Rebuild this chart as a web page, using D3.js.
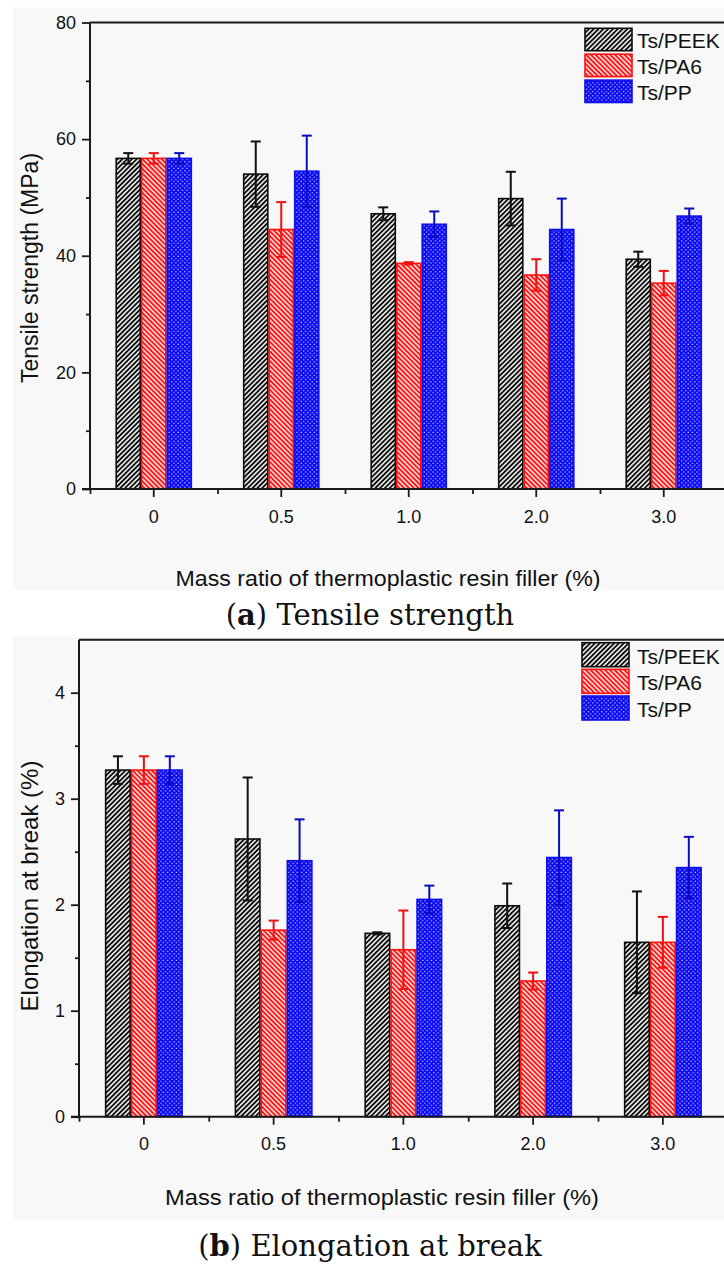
<!DOCTYPE html>
<html>
<head>
<meta charset="utf-8">
<script src="https://cdn.jsdelivr.net/npm/d3@7"></script>
<style>
  html, body { margin: 0; padding: 0; background: #ffffff; }
  svg { display: block; }
  .sans { font-family: "Liberation Sans", Arial, sans-serif; fill: #111; }
</style>
</head>
<body>
<svg id="chart" width="724" height="1267"></svg>
<script>
// ---------- data ----------
const categories = ["0", "0.5", "1.0", "2.0", "3.0"];
const seriesNames = ["Ts/PEEK", "Ts/PA6", "Ts/PP"];

const tensilePEEK    = [56.7, 54.0, 47.2, 49.8, 39.4];
const tensilePEEKErr = [0.9, 5.6, 1.1, 4.6, 1.3];
const tensilePA6     = [56.7, 44.5, 38.7, 36.7, 35.3];
const tensilePA6Err  = [0.9, 4.7, 0.2, 2.7, 2.1];
const tensilePP      = [56.7, 54.5, 45.4, 44.5, 46.8];
const tensilePPErr   = [0.9, 6.1, 2.2, 5.3, 1.3];

const elongPEEK    = [3.27, 2.62, 1.73, 1.99, 1.645];
const elongPEEKErr = [0.13, 0.58, 0.01, 0.21, 0.48];
const elongPA6     = [3.27, 1.76, 1.575, 1.28, 1.645];
const elongPA6Err  = [0.13, 0.09, 0.37, 0.08, 0.24];
const elongPP      = [3.27, 2.415, 2.05, 2.445, 2.35];
const elongPPErr   = [0.13, 0.39, 0.13, 0.445, 0.29];

const tensileMajorTicks = [0, 20, 40, 60, 80];
const tensileMinorTicks = [10, 30, 50, 70];
const elongMajorTicks = [0, 1, 2, 3, 4];
const elongMinorTicks = [0.5, 1.5, 2.5, 3.5];

// ---------- drawing ----------
const svg = d3.select("#chart");
const defs = svg.append("defs");

function hatch(id, angle, bg, color, sw, gap) {
  const p = defs.append("pattern").attr("id", id)
    .attr("patternUnits", "userSpaceOnUse")
    .attr("width", gap).attr("height", gap)
    .attr("patternTransform", `rotate(${angle})`);
  p.append("rect").attr("width", gap).attr("height", gap).attr("fill", bg);
  p.append("line").attr("x1", gap / 2).attr("x2", gap / 2).attr("y1", -1).attr("y2", gap + 1)
    .attr("stroke", color).attr("stroke-width", sw);
}
hatch("pPEEK", 45, "#eeeeee", "#0a0a0a", 1.8, 3.4);
hatch("pPA6", -45, "#ffd0d0", "#ff1414", 1.7, 3.4);
(function () {
  const p = defs.append("pattern").attr("id", "pPP")
    .attr("patternUnits", "userSpaceOnUse").attr("width", 4.4).attr("height", 4.4);
  p.append("rect").attr("width", 4.4).attr("height", 4.4).attr("fill", "#0808f2");
  p.append("circle").attr("cx", 1.1).attr("cy", 1.1).attr("r", 0.75).attr("fill", "#c8c8ff");
  p.append("circle").attr("cx", 3.3).attr("cy", 3.3).attr("r", 0.75).attr("fill", "#c8c8ff");
})();

const fills = ["url(#pPEEK)", "url(#pPA6)", "url(#pPP)"];
const strokes = ["#0d0d0d", "#ff1010", "#1010ee"];
const errColors = ["#111111", "#ee1111", "#0a0ac0"];

function drawChart(cfg) {
  const g = svg.append("g");
  g.append("rect").attr("x", cfg.panel[0]).attr("y", cfg.panel[1])
    .attr("width", cfg.panel[2]).attr("height", cfg.panel[3]).attr("fill", "#f8f8f8");

  const x0 = d3.scaleBand().domain(categories).range(cfg.xRange)
    .paddingInner(0.4).paddingOuter(0.2);
  const x1 = d3.scaleBand().domain(seriesNames).range([0, x0.bandwidth()]);
  const xEdge = d3.scaleLinear().domain([0, categories.length]).range(cfg.xRange);
  const y = d3.scaleLinear().domain(cfg.yDomain).range(cfg.yRange);

  const rows = categories.map((c, i) => ({
    cat: c,
    vals: seriesNames.map((s, k) => ({ s, k, v: cfg.values[k][i], e: cfg.errors[k][i] }))
  }));

  const grp = g.selectAll("g.grp").data(rows).join("g").attr("class", "grp")
    .attr("transform", d => `translate(${x0(d.cat)},0)`);

  grp.selectAll("rect.bar").data(d => d.vals).join("rect").attr("class", "bar")
    .attr("x", d => x1(d.s) + 0.7)
    .attr("width", x1.bandwidth() - 1.4)
    .attr("y", d => y(d.v))
    .attr("height", d => y(0) - y(d.v))
    .attr("fill", d => fills[d.k])
    .attr("stroke", d => strokes[d.k])
    .attr("stroke-width", 1.6);

  const cap = 5;
  const cx = d => x1(d.s) + x1.bandwidth() / 2;
  const eb = grp.selectAll("g.err").data(d => d.vals).join("g").attr("class", "err")
    .attr("stroke", d => errColors[d.k]).attr("stroke-width", 2).attr("fill", "none");
  eb.append("line").attr("x1", cx).attr("x2", cx)
    .attr("y1", d => y(d.v - d.e)).attr("y2", d => y(d.v + d.e));
  eb.append("line").attr("x1", d => cx(d) - cap).attr("x2", d => cx(d) + cap)
    .attr("y1", d => y(d.v + d.e)).attr("y2", d => y(d.v + d.e));
  eb.append("line").attr("x1", d => cx(d) - cap).attr("x2", d => cx(d) + cap)
    .attr("y1", d => y(d.v - d.e)).attr("y2", d => y(d.v - d.e));

  const axisColor = "#1a1a1a";
  const styleAxis = sel => {
    sel.select(".domain").remove();
    sel.selectAll("line").attr("stroke", axisColor).attr("stroke-width", 1.8);
    sel.selectAll("text").attr("class", "sans").style("font-size", cfg.tickFont + "px")
      .attr("fill", "#111");
  };
  const yx = cfg.xRange[0];
  const y0 = y(0);
  g.append("line").attr("x1", yx).attr("x2", yx).attr("y1", cfg.yRange[1]).attr("y2", y0)
    .attr("stroke", axisColor).attr("stroke-width", 2);
  g.append("line").attr("x1", yx).attr("x2", 724).attr("y1", cfg.yRange[1]).attr("y2", cfg.yRange[1])
    .attr("stroke", axisColor).attr("stroke-width", 2);
  g.append("line").attr("x1", yx - 8).attr("x2", 724).attr("y1", y0).attr("y2", y0)
    .attr("stroke", axisColor).attr("stroke-width", 2);

  g.append("g").attr("transform", `translate(${yx},0)`)
    .call(d3.axisLeft(y).tickValues(cfg.major).tickSize(8).tickPadding(6).tickFormat(d3.format("d")))
    .call(styleAxis);
  g.append("g").attr("transform", `translate(${yx},0)`)
    .call(d3.axisLeft(y).tickValues(cfg.minor).tickSize(4).tickFormat(""))
    .call(styleAxis);
  g.append("g").attr("transform", `translate(0,${y0})`)
    .call(d3.axisBottom(x0).tickSize(8).tickPadding(13))
    .call(styleAxis);
  g.append("g").attr("transform", `translate(0,${y0})`)
    .call(d3.axisBottom(xEdge).tickValues(d3.range(categories.length + 1)).tickSize(5).tickFormat(""))
    .call(styleAxis);

  g.append("text").attr("class", "sans")
    .attr("transform", `translate(${cfg.yTitlePos[0]},${cfg.yTitlePos[1]}) rotate(-90)`)
    .attr("text-anchor", "middle").style("font-size", cfg.yTitleFont + "px")
    .text(cfg.yTitle);
  g.append("text").attr("class", "sans")
    .attr("x", cfg.xTitlePos[0]).attr("y", cfg.xTitlePos[1])
    .attr("text-anchor", "middle").style("font-size", cfg.titleFont + "px")
    .attr("textLength", cfg.xTitleLen).attr("lengthAdjust", "spacingAndGlyphs")
    .text("Mass ratio of thermoplastic resin filler (%)");

  const lg = g.append("g");
  seriesNames.forEach((s, k) => {
    const yy = cfg.legend[1] + k * cfg.legend[3];
    lg.append("rect").attr("x", cfg.legend[0]).attr("y", yy)
      .attr("width", 47).attr("height", cfg.legend[2])
      .attr("fill", fills[k]).attr("stroke", strokes[k]).attr("stroke-width", 1.6);
    lg.append("text").attr("class", "sans").attr("x", 637).attr("y", yy + cfg.legend[2] - 3)
      .style("font-size", "21px").text(s);
  });

  const cap2 = g.append("text").attr("x", 370).attr("y", cfg.captionY)
    .attr("text-anchor", "middle")
    .style("font-family", "'DejaVu Serif', 'Liberation Serif', serif")
    .style("font-size", "29px").attr("fill", "#111");
  cap2.append("tspan").text("(");
  cap2.append("tspan").style("font-weight", "bold").text(cfg.captionLetter);
  cap2.append("tspan").text(") " + cfg.caption);
}

drawChart({
  panel: [13, 7, 711, 583],
  xRange: [90, 727.5],
  yDomain: [0, 80],
  yRange: [489, 22.5],
  values: [tensilePEEK, tensilePA6, tensilePP],
  errors: [tensilePEEKErr, tensilePA6Err, tensilePPErr],
  major: tensileMajorTicks,
  minor: tensileMinorTicks,
  tickFont: 18,
  titleFont: 22,
  yTitleFont: 23,
  yTitle: "Tensile strength (MPa)",
  yTitlePos: [38, 268],
  xTitlePos: [388, 586],
  xTitleLen: 425,
  legend: [585, 28.3, 22.4, 25.9],
  captionY: 625,
  captionLetter: "a",
  caption: "Tensile strength"
});

drawChart({
  panel: [13, 637, 711, 583],
  xRange: [79, 727.75],
  yDomain: [0, 4.5],
  yRange: [1116.7, 639.7],
  values: [elongPEEK, elongPA6, elongPP],
  errors: [elongPEEKErr, elongPA6Err, elongPPErr],
  major: elongMajorTicks,
  minor: elongMinorTicks,
  tickFont: 18,
  titleFont: 22.5,
  yTitleFont: 24,
  yTitle: "Elongation at break (%)",
  yTitlePos: [38, 886],
  xTitlePos: [382, 1205],
  xTitleLen: 434,
  legend: [582, 642.7, 24, 26.65],
  captionY: 1256,
  captionLetter: "b",
  caption: "Elongation at break"
});
</script>
</body>
</html>
